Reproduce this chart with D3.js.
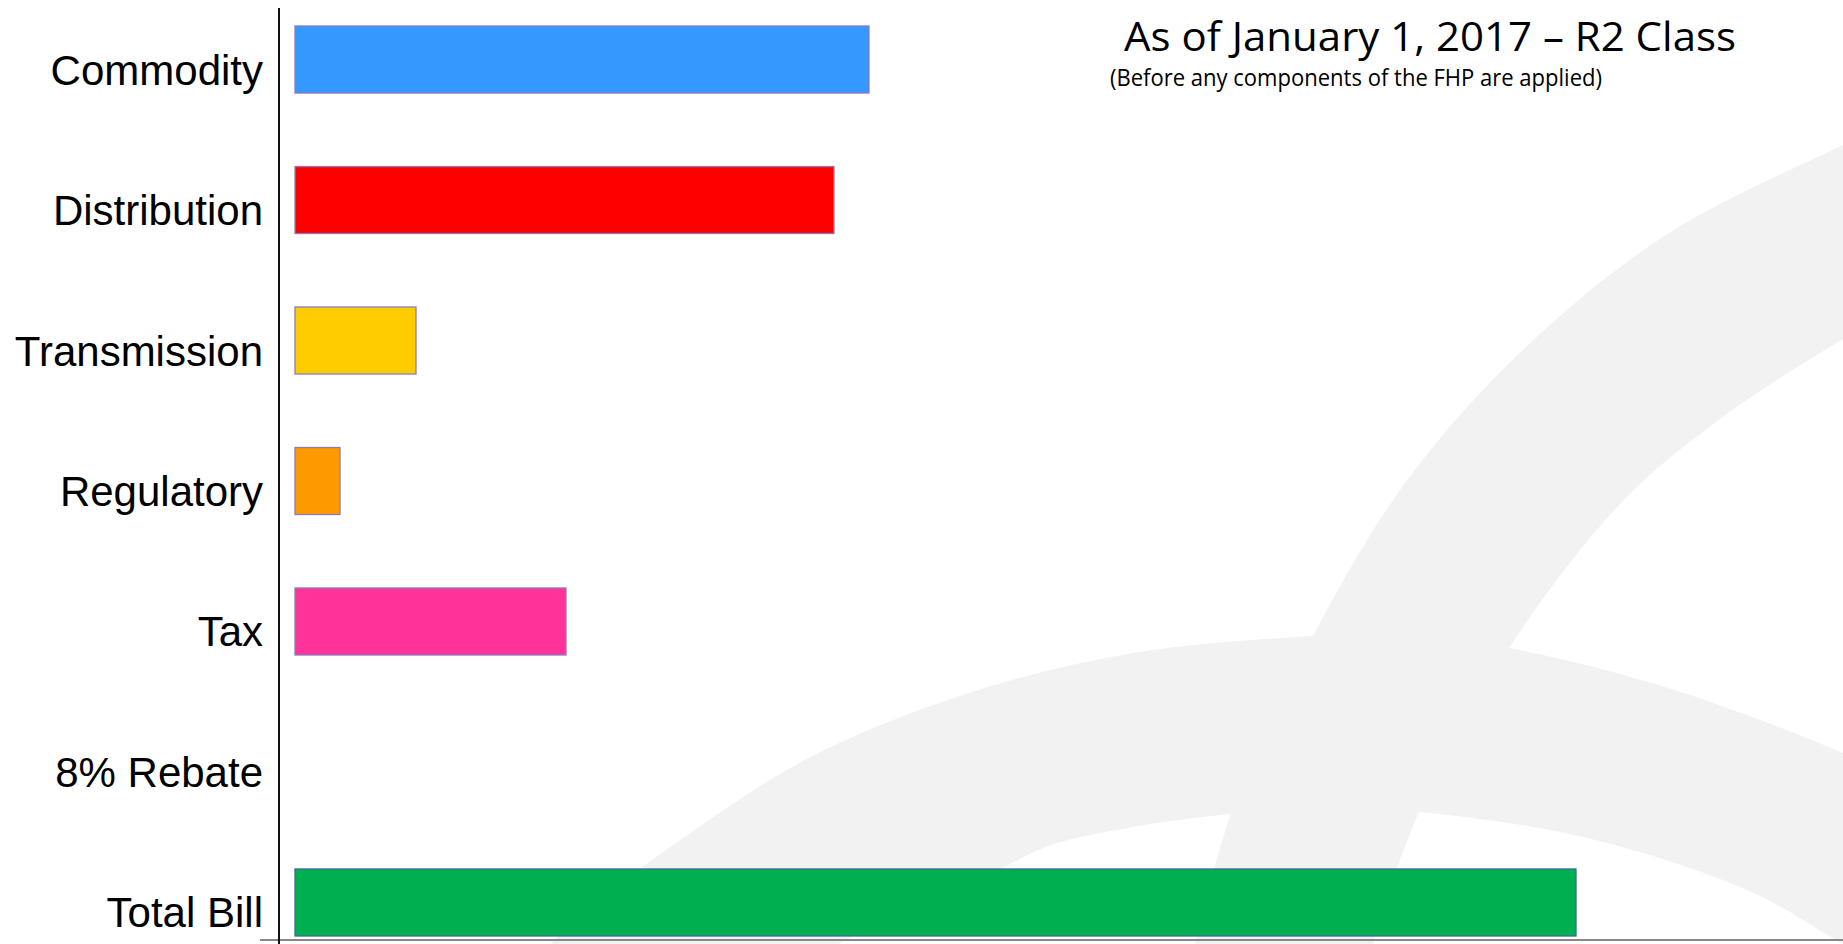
<!DOCTYPE html>
<meta charset="utf-8">
<style>
body { margin: 0; background: #fff; }
svg { display: block; }
.label { font-family: "Liberation Sans", Arial, sans-serif; font-size: 42px; fill: #000; }
.title { font-family: "Open Sans", sans-serif; fill: #000; }
</style>
<svg width="1843" height="944"></svg>
<script src="https://cdn.jsdelivr.net/npm/d3@7/dist/d3.min.js"></script>
<script>

// bill components, R2 class, Jan 1 2017
var categories = ["Commodity", "Distribution", "Transmission", "Regulatory", "Tax", "8% Rebate", "Total Bill"];
var values = [57.4, 53.9, 12.1, 4.5, 27.1, 0, 128.1];
var colors = ["#3399ff", "#ff0000", "#ffcc00", "#ff9900", "#ff3399", "#ffffff", "#00b050"];

var titleText = "As of January 1, 2017 \u2013 R2 Class";
var subtitleText = "(Before any components of the FHP are applied)";

var svg = d3.select("svg"),
    width = +svg.attr("width"),
    height = +svg.attr("height");

// faint logo watermark in the background
var edge = d3.line().curve(d3.curveCatmullRom);
function band(outer, inner) {
  return edge(outer) + "L" + edge(inner).slice(1) + "Z";
}
var wm = svg.append("g").attr("fill", "#f2f2f2");
wm.append("path").attr("d", band(
  [[545, 950], [590, 905], [642, 867], [805, 760], [969, 693], [1133, 653], [1313, 636], [1400, 634], [1509, 648], [1665, 687], [1843, 753], [1900, 782]],
  [[1900, 980], [1836, 940], [1747, 890], [1583, 837], [1419, 812], [1330, 808], [1231, 814], [1133, 827], [1051, 845], [1002, 868], [838, 944], [825, 952]]));
wm.append("path").attr("d", band(
  [[1900, 118], [1843, 145], [1669, 233], [1527, 346], [1408, 479], [1313, 636], [1231, 814], [1194, 950]],
  [[1372, 950], [1374, 940], [1419, 812], [1509, 648], [1621, 503], [1716, 422], [1843, 339], [1900, 308]]));

var x = d3.scaleLinear()
    .domain([0, d3.max(values)])
    .range([295, 1576]);

var y = d3.scaleBand()
    .domain(categories)
    .range([26, 936])
    .paddingInner(0.523)
    .paddingOuter(0);

var data = categories.map(function(c, i) {
  return {name: c, value: values[i], color: colors[i]};
});

// bars
svg.append("g")
  .selectAll("rect")
  .data(data.filter(function(d) { return d.value > 0; }))
  .enter().append("rect")
    .attr("x", x(0))
    .attr("y", function(d) { return y(d.name); })
    .attr("width", function(d) { return x(d.value) - x(0); })
    .attr("height", y.bandwidth())
    .attr("fill", function(d) { return d.color; })
    .attr("stroke", function(d) { return d.name == "Total Bill" ? "#41699a" : "#8a7cc0"; })
    .attr("stroke-width", 1.3);

// category labels
svg.append("g")
  .selectAll("text")
  .data(data)
  .enter().append("text")
    .attr("class", "label")
    .attr("text-anchor", "end")
    .attr("x", 263)
    .attr("y", function(d) { return y(d.name) + y.bandwidth() / 2 + 25; })
    .text(function(d) { return d.name; });

// axis lines
svg.append("line")
    .attr("x1", 260).attr("x2", width)
    .attr("y1", 940).attr("y2", 940)
    .attr("stroke", "#888").attr("stroke-width", 2);
svg.append("line")
    .attr("x1", 279).attr("x2", 279)
    .attr("y1", 8).attr("y2", height)
    .attr("stroke", "#111").attr("stroke-width", 2);

// title block
svg.append("text")
    .attr("class", "title")
    .attr("x", 1124).attr("y", 51)
    .style("font-size", "41px")
    .attr("textLength", 612)
    .attr("lengthAdjust", "spacingAndGlyphs")
    .text(titleText);
svg.append("text")
    .attr("class", "title")
    .attr("x", 1110).attr("y", 86)
    .style("font-size", "24px")
    .attr("textLength", 492)
    .attr("lengthAdjust", "spacingAndGlyphs")
    .text(subtitleText);

</script>
